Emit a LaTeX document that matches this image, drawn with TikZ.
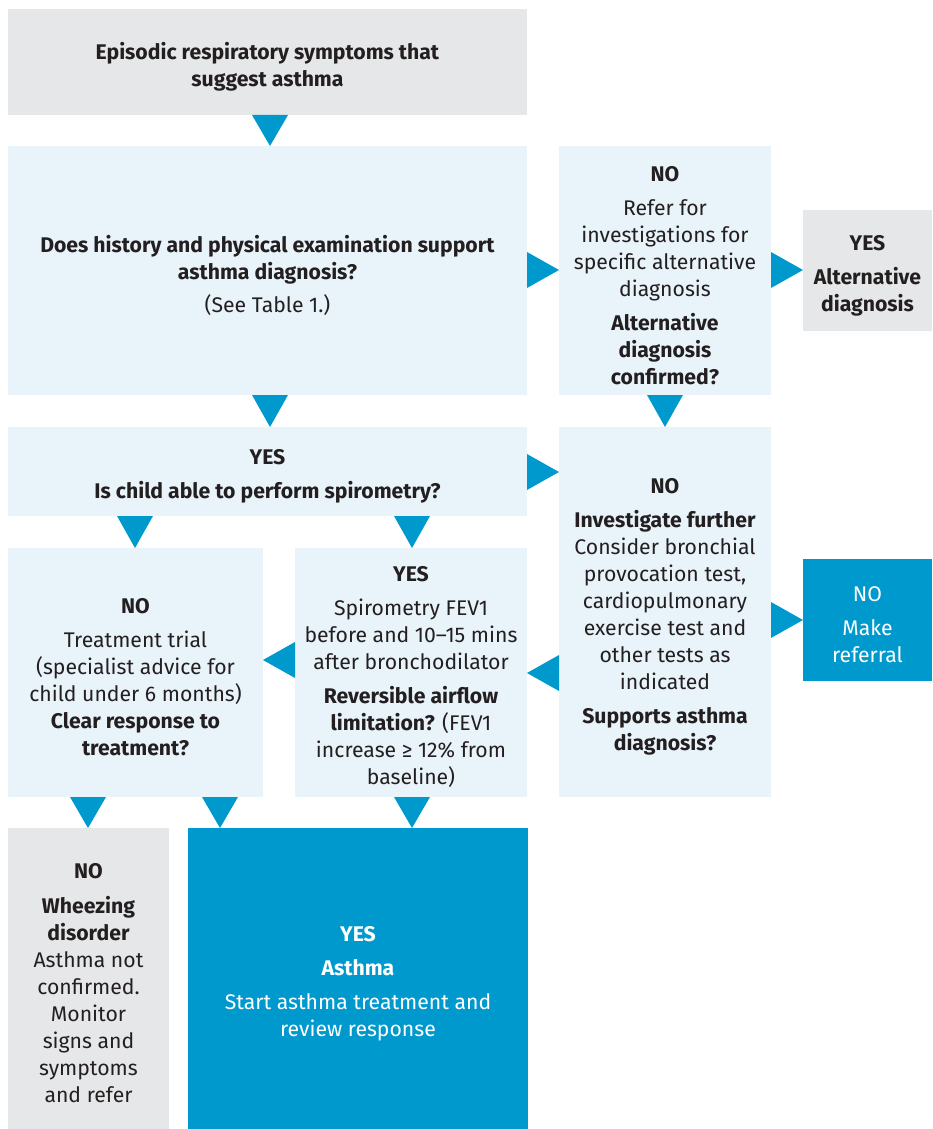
\documentclass[tikz,border=0pt]{standalone}
\usepackage{fontspec}
\setmainfont{Fira Sans}
\definecolor{paleblue}{HTML}{E8F3FA}
\definecolor{boxgrey}{HTML}{E6E7E8}
\definecolor{deepblue}{HTML}{0099CE}
\definecolor{ink}{HTML}{231F20}
\tikzset{
  box/.style={rectangle, inner sep=0pt, outer sep=0pt, anchor=north west},
  pale/.style={box, fill=paleblue},
  grey/.style={box, fill=boxgrey},
  deep/.style={box, fill=deepblue},
  txt/.style={inner sep=0pt, align=center, text=ink, font=\fontsize{21.2}{27}\selectfont},
  wtxt/.style={txt, text=white},
  tri/.style={fill=deepblue},
}
% box text, set a little below the box centre
\newcommand\boxtext[3][txt]{\node[#1] (#2-text) at ([yshift=-5pt]#2.center) {#3};}
% pointer triangles between boxes
\newcommand\tridown[3]{\fill[tri] (#1-18,0 |- #2.south) -- (#1+18,0 |- #2.south) -- (#1,0 |- #3.north) -- cycle;}
\newcommand\triright[3]{\fill[tri] (#2.east |- 0,#1-18) -- (#2.east |- 0,#1+18) -- (#3.west |- 0,#1) -- cycle;}
\newcommand\trileft[3]{\fill[tri] (#2.west |- 0,#1-18) -- (#2.west |- 0,#1+18) -- (#3.east |- 0,#1) -- cycle;}
\begin{document}
\begin{tikzpicture}[x=1pt,y=-1pt]
\useasboundingbox (0,0) rectangle (932,1129);

% boxes
\node[grey, minimum width=519pt, minimum height=106pt] (start) at (8,9) {};
\node[pale, minimum width=519pt, minimum height=249pt] (history) at (8,146) {};
\node[pale, minimum width=212pt, minimum height=249pt] (refer) at (559,146) {};
\node[grey, minimum width=129pt, minimum height=121pt] (altdx) at (803,210) {};
\node[pale, minimum width=519pt, minimum height=89pt] (spiroq) at (8,427) {};
\node[pale, minimum width=212pt, minimum height=370pt] (investigate) at (559,427) {};
\node[deep, minimum width=129pt, minimum height=122pt] (referral) at (803,559) {};
\node[pale, minimum width=255pt, minimum height=249pt] (trial) at (8,548) {};
\node[pale, minimum width=232pt, minimum height=249pt] (spiro) at (295,548) {};
\node[grey, minimum width=161pt, minimum height=301pt] (wheeze) at (8,828) {};
\node[deep, minimum width=340pt, minimum height=301pt] (asthma) at (188,828) {};

% box texts
\boxtext{start}{\textbf{Episodic respiratory symptoms that}\\\textbf{suggest asthma}}
\boxtext{history}{\textbf{Does history and physical examination support}\\\textbf{asthma diagnosis?}\\[6pt](See Table 1.)}
\boxtext{refer}{\textbf{NO}\\[7pt]Refer for\\investigations for\\specific alternative\\diagnosis\\[7pt]\textbf{Alternative}\\\textbf{diagnosis}\\\textbf{confirmed?}}
\boxtext{altdx}{\textbf{YES}\\[7pt]\textbf{Alternative}\\\textbf{diagnosis}}
\boxtext{spiroq}{\textbf{YES}\\[7pt]\textbf{Is child able to perform spirometry?}}
\boxtext{investigate}{\textbf{NO}\\[7pt]\textbf{Investigate further}\\Consider bronchial\\provocation test,\\cardiopulmonary\\exercise test and\\other tests as\\indicated\\[7pt]\textbf{Supports asthma}\\\textbf{diagnosis?}}
\boxtext[wtxt]{referral}{NO\\[7pt]Make\\referral}
\boxtext{trial}{\textbf{NO}\\[7pt]Treatment trial\\(specialist advice for\\child under 6 months)\\\textbf{Clear response to}\\\textbf{treatment?}}
\boxtext{spiro}{\textbf{YES}\\[7pt]Spirometry FEV1\\before and 10–15 mins\\after bronchodilator\\[7pt]\textbf{Reversible airflow}\\\textbf{limitation?} (FEV1\\increase ≥ 12\% from\\baseline)}
\boxtext{wheeze}{\textbf{NO}\\[8pt]\textbf{Wheezing}\\\textbf{disorder}\\Asthma not\\confirmed.\\Monitor\\signs and\\symptoms\\and refer}
\boxtext[wtxt]{asthma}{\textbf{YES}\\[7pt]\textbf{Asthma}\\[7pt]Start asthma treatment and\\review response}

% flow pointers
\tridown{270}{start}{history}
\triright{270}{history}{refer}
\triright{270}{refer}{altdx}
\tridown{270}{history}{spiroq}
\tridown{665}{refer}{investigate}
\triright{472}{spiroq}{investigate}
\tridown{135}{spiroq}{trial}
\tridown{412}{spiroq}{spiro}
\triright{620}{investigate}{referral}
\trileft{673}{investigate}{spiro}
\trileft{660}{spiro}{trial}
\tridown{88}{trial}{wheeze}
\tridown{220}{trial}{asthma}
\tridown{412}{spiro}{asthma}
\end{tikzpicture}
\end{document}
